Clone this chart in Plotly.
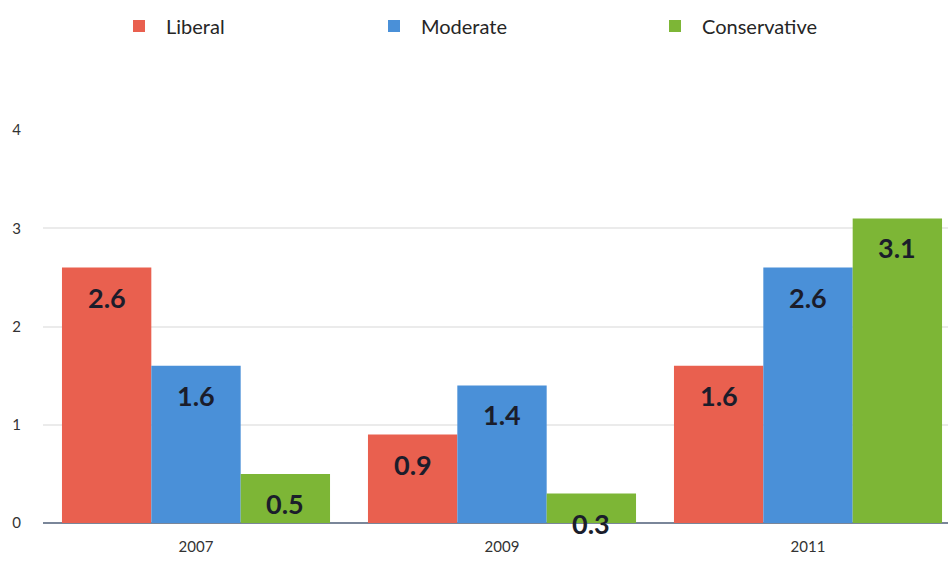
import plotly.graph_objects as go

years = ["2007", "2009", "2011"]
series_names = ["Liberal", "Moderate", "Conservative"]
liberal = [2.6, 0.9, 1.6]
moderate = [1.6, 1.4, 2.6]
conservative = [0.5, 0.3, 3.1]
colors = ["#E9604F", "#4A90D8", "#7DB636"]
y_ticks = [0, 1, 2, 3, 4]

values = [liberal, moderate, conservative]

W, H = 948, 564
ML, MR, MT, MB = 43, 0, 130, 41
BARGAP = 0.124
bar_w = (1 - BARGAP) / 3

FONT = "Lato"
TEXT_DARK = "#1b1d2b"

fig = go.Figure()
legend_ids = ["legend", "legend2", "legend3"]
for j, (name, vals, col) in enumerate(zip(series_names, values, colors)):
    fig.add_trace(go.Bar(
        name=name, x=years, y=vals,
        marker=dict(color=col, line=dict(width=0)),
        legend=legend_ids[j], showlegend=True,
        hoverinfo="skip",
    ))

# value labels sit just below each bar top
annotations = []
for j, vals in enumerate(values):
    for i, v in enumerate(vals):
        annotations.append(dict(
            x=i + (j - 1) * bar_w, y=v, xref="x", yref="y",
            text=f"{v:.1f}", showarrow=False,
            yanchor="top", yshift=-11,
            font=dict(family=FONT, size=27, color=TEXT_DARK, weight="bold"),
        ))

plot_w = W - ML - MR
legend_px = [112, 367, 648]
legend_layout = {}
for lid, px in zip(legend_ids, legend_px):
    legend_layout[lid] = dict(
        x=(px - ML) / plot_w, xanchor="left",
        y=1 + (MT - 26) / (H - MT - MB), yanchor="middle",
        orientation="h", bgcolor="rgba(0,0,0,0)",
        font=dict(family=FONT, size=20, color="#262626"),
        itemwidth=44,
    )

fig.update_layout(
    width=W, height=H,
    margin=dict(l=ML, r=MR, t=MT, b=MB),
    paper_bgcolor="white", plot_bgcolor="white",
    showlegend=True,
    barmode="group", bargap=BARGAP, bargroupgap=0,
    annotations=annotations,
    font=dict(family=FONT),
    **legend_layout,
)
fig.update_xaxes(
    type="category", range=[-0.5, -0.5 + plot_w / 306.0],
    showgrid=False, showline=False, zeroline=False, ticks="",
    tickfont=dict(family=FONT, size=15, color="#333333"),
    ticklabelstandoff=13,
)
fig.update_yaxes(
    range=[0, 4], tickvals=y_ticks,
    showgrid=True, gridcolor="#ebebeb", gridwidth=2,
    zeroline=True, zerolinecolor="#7a8699", zerolinewidth=2,
    showline=False, ticks="",
    tickfont=dict(family=FONT, size=15, color="#333333"),
    ticklabelstandoff=21,
)

fig.write_html("out.html")
